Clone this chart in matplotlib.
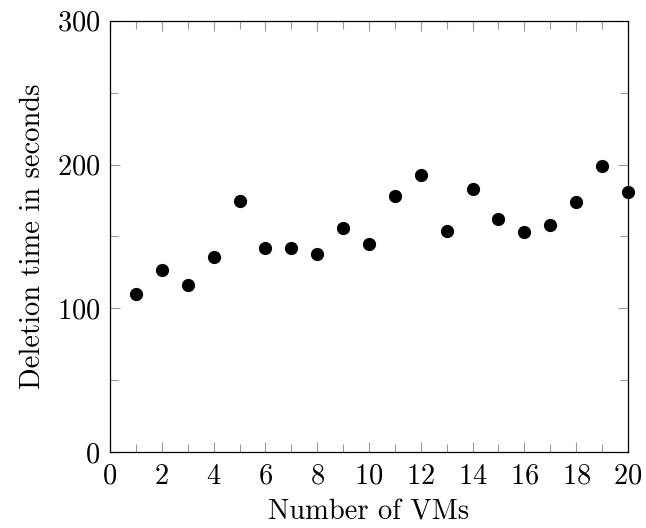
import matplotlib
matplotlib.use("Agg")
import matplotlib.pyplot as plt
from matplotlib.ticker import MultipleLocator

plt.rcParams['font.family'] = 'serif'
plt.rcParams['font.serif'] = ['cmr10', 'DejaVu Serif']
plt.rcParams['mathtext.fontset'] = 'cm'
plt.rcParams['axes.formatter.use_mathtext'] = True

# data
vms = [1, 2, 3, 4, 5, 6, 7, 8, 9, 10, 11, 12, 13, 14, 15, 16, 17, 18, 19, 20]
deletion_time = [110, 127, 116, 136, 175, 142, 142, 138, 156, 145,
                 178, 193, 154, 183, 162, 153, 158, 174, 199, 181]

fig = plt.figure(figsize=(6.46, 5.28), dpi=100)
ax = fig.add_axes([0.1703, 0.1434, 0.9721 - 0.1703, 0.9608 - 0.1434])

ax.plot(vms, deletion_time, 'o', color='black', markersize=8.5,
        linestyle='none', clip_on=False, zorder=3)

ax.set_xlim(0, 20)
ax.set_ylim(0, 300)
ax.xaxis.set_major_locator(MultipleLocator(2))
ax.xaxis.set_minor_locator(MultipleLocator(1))
ax.yaxis.set_major_locator(MultipleLocator(100))
ax.yaxis.set_minor_locator(MultipleLocator(50))

ax.tick_params(which='both', direction='in', top=True, right=True,
               color='0.6', labelsize=20.5, width=0.8)
ax.tick_params(which='major', length=7.5, pad=7)
ax.tick_params(axis='x', which='major', pad=8)
ax.tick_params(which='minor', length=5.5)

for s in ax.spines.values():
    s.set_linewidth(0.9)

ax.set_xlabel('Number of VMs', fontsize=20.5, labelpad=7)
ax.set_ylabel('Deletion time in seconds', fontsize=20.5, labelpad=8)

fig.savefig('out.png', dpi=100)
